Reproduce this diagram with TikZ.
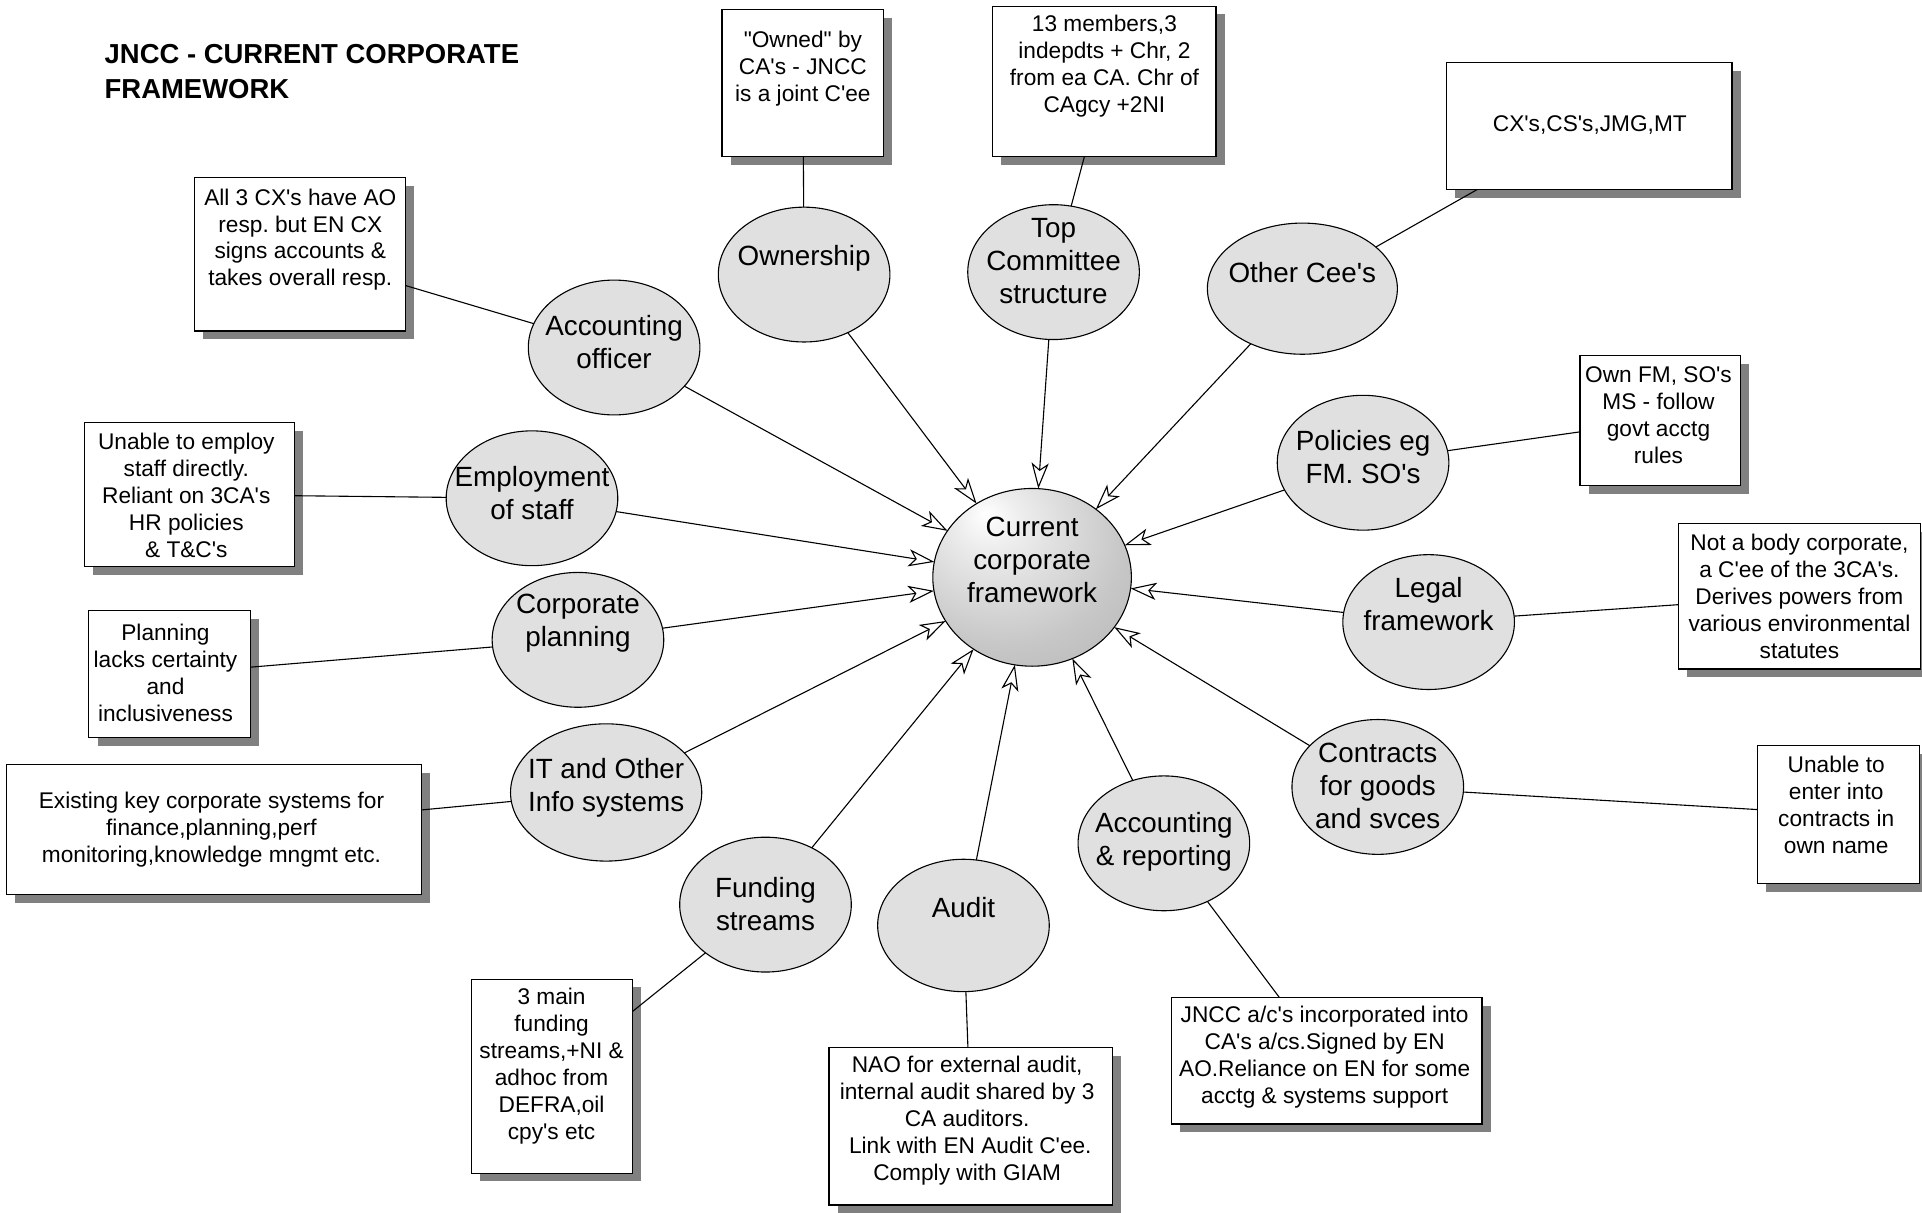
\documentclass[tikz,border=0pt]{standalone}
\usepackage{fontspec}
\setmainfont{Liberation Sans}[Ligatures=TeXOff]
\frenchspacing
\usetikzlibrary{shapes.geometric, arrows.meta, shadows, positioning}
\definecolor{bubgray}{RGB}{224,224,224}
\definecolor{shadgray}{RGB}{128,128,128}
\pgfdeclareradialshading{hubball}{\pgfpoint{-12bp}{18bp}}{color(0bp)=(white); color(8bp)=(white!93!black); color(30bp)=(white!78!black); color(55bp)=(white!67!black); color(75bp)=(white!62!black)}
\tikzset{bubble/.style={ellipse, draw=black, fill=bubgray, line width=0.45pt, minimum width=70pt, minimum height=55pt, inner sep=0pt, outer sep=0pt},
    hub/.style={ellipse, draw=black, shading=hubball, line width=0.45pt, minimum width=81pt, minimum height=72.5pt, inner sep=0pt, outer sep=0pt},
    bubtxt/.style={align=center, font=\fontsize{11.35}{13.5}\selectfont, inner sep=0pt},
    note/.style={rectangle, draw=black, fill=white, line width=0.45pt, inner sep=0pt, outer sep=0pt, drop shadow={shadow xshift=3.5pt, shadow yshift=-3.4pt, fill=shadgray, opacity=1}},
    notetxt/.style={align=center, font=\fontsize{9.25}{11}\selectfont, inner sep=0pt},
    link/.style={draw=black, line width=0.45pt},
    feed/.style={link, -{Stealth[open, length=10.5pt, width=7pt, inset=2.7pt, fill=white]}},
}
\begin{document}
\begin{tikzpicture}[x=0.5pt, y=-0.5pt]
                      \useasboundingbox (0,0) rectangle (1568,989);
                      \node[font=\fontsize{11.2}{14.5}\selectfont\bfseries, align=left, anchor=west, inner sep=0pt] (title) at (85,58.5) {JNCC - CURRENT CORPORATE\\FRAMEWORK};

                      \node[hub] (hub) at (842,471) {};
                      \node[bubtxt] (hub-t) at (842,457) {Current\\corporate\\framework};

                      \node[bubble] (own) at (656,224) {};
                      \node[bubble] (top) at (859.5,222) {};
                      \node[bubble, minimum width=77.5pt, minimum height=53.5pt] (oth) at (1062.5,235.5) {};
                      \node[bubble] (pol) at (1112,377.5) {};
                      \node[bubble] (leg) at (1165.5,507.5) {};
                      \node[bubble] (con) at (1124,642) {};
                      \node[bubble] (acr) at (949.5,688) {};
                      \node[bubble, minimum height=54pt] (aud) at (786,755) {};
                      \node[bubble] (fun) at (624.5,738) {};
                      \node[bubble, minimum width=78pt, minimum height=56pt] (its) at (494.5,646.5) {};
                      \node[bubble] (cpl) at (471.5,522) {};
                      \node[bubble] (emp) at (434,406.5) {};
                      \node[bubble] (aco) at (501,283.5) {};

                      \node[bubtxt] (own-t) at (656,211) {Ownership};
                      \node[bubtxt] (top-t) at (859.5,212.7) {Top\\Committee\\structure};
                      \node[bubtxt] (oth-t) at (1062.5,222) {Other Cee's};
                      \node[bubtxt] (pol-t) at (1112,373) {Policies eg\\FM. SO's};
                      \node[bubtxt] (leg-t) at (1165.5,493) {Legal\\framework};
                      \node[bubtxt] (con-t) at (1124,641.4) {Contracts\\for goods\\and svces};
                      \node[bubtxt] (acr-t) at (949.5,687) {Accounting\\\& reporting};
                      \node[bubtxt] (aud-t) at (786,740) {Audit};
                      \node[bubtxt] (fun-t) at (624.5,737.5) {Funding\\streams};
                      \node[bubtxt] (its-t) at (494.5,643) {IT and Other\\Info systems};
                      \node[bubtxt] (cpl-t) at (471.5,508.3) {Corporate\\planning};
                      \node[bubtxt] (emp-t) at (434,402.5) {Employment\\of staff};
                      \node[bubtxt] (aco-t) at (501,279) {Accounting\\officer};

                      \node[note, minimum width=66pt, minimum height=60.2pt] (ownbox) at (655,67.8) {};
                      \node[note, minimum width=91pt, minimum height=61.5pt] (topbox) at (901,66.5) {};
                      \node[note, minimum width=116.5pt, minimum height=51.75pt] (othbox) at (1296.5,102.8) {};
                      \node[note, minimum width=65.5pt, minimum height=53pt] (polbox) at (1354.5,343) {};
                      \node[note, minimum width=98.75pt, minimum height=59.4pt] (legbox) at (1468.3,486.4) {};
                      \node[note, minimum width=65.85pt, minimum height=56.45pt] (conbox) at (1499.9,664.4) {};
                      \node[note, minimum width=126.65pt, minimum height=51.6pt] (acrbox) at (1082.4,865.4) {};
                      \node[note, minimum width=115.7pt, minimum height=64.15pt] (audbox) at (792,918.9) {};
                      \node[note, minimum width=65.75pt, minimum height=79.15pt] (funbox) at (450.3,877.9) {};
                      \node[note, minimum width=169.5pt, minimum height=52.8pt] (itsbox) at (174.5,676.8) {};
                      \node[note, minimum width=65.75pt, minimum height=51.8pt] (cplbox) at (138.3,549.8) {};
                      \node[note, minimum width=85.5pt, minimum height=58.5pt] (empbox) at (154.5,403.5) {};
                      \node[note, minimum width=86pt, minimum height=62.5pt] (acobox) at (245,207.5) {};

                      \node[notetxt] (ownnote) at (655,56) {"Owned" by\\CA's - JNCC\\is a joint C'ee};
                      \node[notetxt] (topnote) at (901,54) {13 members,3\\indepdts + Chr, 2\\from ea CA. Chr of\\CAgcy +2NI};
                      \node[notetxt] (othnote) at (1297,102) {CX's,CS's,JMG,MT};
                      \node[notetxt] (polnote) at (1353,338.5) {Own FM, SO's\\MS - follow\\govt acctg\\rules};
                      \node[notetxt] (legnote) at (1468,486.5) {Not a body corporate,\\a C'ee of the 3CA's.\\Derives powers from\\various environmental\\statutes};
                      \node[notetxt] (connote) at (1498,656.8) {Unable to\\enter into\\contracts in\\own name};
                      \node[notetxt] (acrnote) at (1080.7,862.4) {JNCC a/c's incorporated into\\CA's a/cs.Signed by EN\\AO.Reliance on EN for some\\acctg \& systems support};
                      \node[notetxt] (audnote) at (789,913.9) {NAO for external audit,\\internal audit shared by 3\\CA auditors.\\\ Link with EN Audit C'ee.\\Comply with GIAM};
                      \node[notetxt] (funnote) at (450,870) {3 main\\funding\\streams,+NI \&\\adhoc from\\DEFRA,oil\\cpy's etc};
                      \node[notetxt] (itsnote) at (172.5,676.6) {Existing key corporate systems for\\finance,planning,perf\\monitoring,knowledge mngmt etc.};
                      \node[notetxt] (cplnote) at (135,549) {Planning\\lacks certainty\\and\\inclusiveness};
                      \node[notetxt] (empnote) at (152,404) {Unable to employ\\staff directly.\\Reliant on 3CA's\\HR policies\\\& T\&C's};
                      \node[notetxt] (aconote) at (245,195.5) {All 3 CX's have AO\\resp. but EN CX\\signs accounts \&\\takes overall resp.};

                      \draw[link](ownbox)--(own);
                      \draw[link](topbox)--(top);
                      \draw[link](othbox)--(oth);
                      \draw[link](polbox)--(pol);
                      \draw[link](legbox)--(leg);
                      \draw[link](conbox)--(con);
                      \draw[link](acrbox)--(acr);
                      \draw[link](audbox)--(aud);
                      \draw[link](funbox)--(fun);
                      \draw[link](itsbox)--(its);
                      \draw[link](cplbox)--(cpl);
                      \draw[link](empbox)--(emp);
                      \draw[link](acobox)--(aco);

                      \draw[feed](own)--(hub);
                      \draw[feed](top)--(hub);
                      \draw[feed](oth)--(hub);
                      \draw[feed](pol)--(hub);
                      \draw[feed](leg)--(hub);
                      \draw[feed](con)--(hub);
                      \draw[feed](acr)--(hub);
                      \draw[feed](aud)--(hub);
                      \draw[feed](fun)--(hub);
                      \draw[feed](its)--(hub);
                      \draw[feed](cpl)--(hub);
                      \draw[feed](emp)--(hub);
                      \draw[feed](aco)--(hub);
             \end{tikzpicture}
\end{document}
